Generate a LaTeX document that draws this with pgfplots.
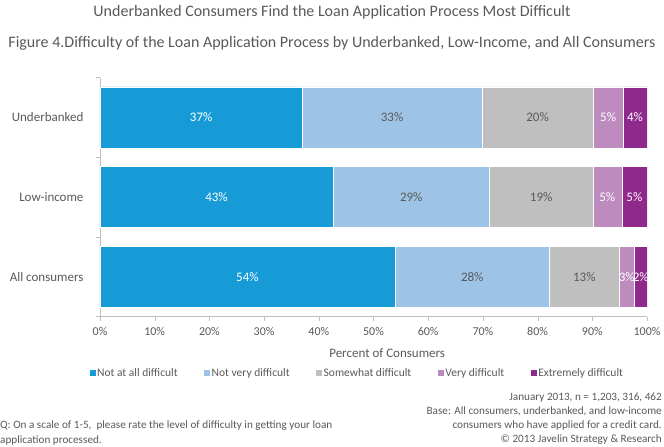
\documentclass[border=0pt]{standalone}
\usepackage{pgfplots}
\pgfplotsset{compat=1.18}
\usepackage{pgfplotstable}
\usepackage{fontspec}
\setmainfont{Carlito}
\definecolor{cA}{HTML}{179BD7}
\definecolor{cB}{HTML}{9DC3E6}
\definecolor{cC}{HTML}{BFBFBF}
\definecolor{cD}{HTML}{BD8BBE}
\definecolor{cE}{HTML}{8F2A8C}
\definecolor{txt}{HTML}{595959}
\definecolor{axgray}{HTML}{BFBFBF}
\pgfplotstableread{
y  a    b    c    d    e
0  53.9 28.3 12.7 2.8 2.3
1  42.6 28.6 18.9 5.3 4.6
2  37.0 32.8 20.4 5.4 4.4
}\data
\begin{document}
\begin{tikzpicture}[x=1pt,y=1pt]
\path[use as bounding box] (0,0) rectangle (664,-447);
\node[font=\fontsize{16}{18}\selectfont, text=txt] at (332,-12) {Underbanked Consumers Find the Loan Application Process Most Difficult};
\node[font=\fontsize{16}{18}\selectfont, text=txt] at (332,-43) {Figure 4.Difficulty of the Loan Application Process by Underbanked, Low-Income, and All Consumers};
\begin{axis}[
  at={(100pt,-316.5pt)}, anchor=south west,
  scale only axis, width=547pt, height=239pt,
  xbar stacked, bar width=61pt,
  xmin=0, xmax=100, ymin=-0.5, ymax=2.5,
  axis x line*=bottom, axis y line*=left,
  axis line style={draw=axgray,-},
  xtick={0,10,...,100},
  xticklabel={\pgfmathprintnumber{\tick}\%},
  ytick={0,1,2},
  yticklabels={All consumers,Low-income,Underbanked},
  minor ytick={-0.5,0.5,1.5,2.5},
  tick align=outside,
  major tick length=4pt, minor tick length=4pt,
  x tick style={draw=axgray},
  major y tick style={draw=none},
  minor y tick style={draw=axgray},
  /pgf/number format/assume math mode=true,
  x tick label style={text=txt, font=\fontsize{12}{14}\selectfont, yshift=-3pt},
  y tick label style={text=txt, font=\fontsize{13}{15}\selectfont, xshift=-9pt},
  xlabel={Percent of Consumers},
  xlabel style={at={(axis description cs:0.525,-0.153)}, anchor=center, text=txt, font=\fontsize{13}{15}\selectfont},
  legend columns=5,
  legend style={at={(axis description cs:0.470,-0.236)}, anchor=center, draw=none, fill=none,
    font=\fontsize{11.5}{13}\selectfont, text=txt,
    /tikz/every even column/.append style={column sep=25pt},
    nodes={inner sep=1.5pt}},
  legend image code/.code={\fill[#1,draw=none] (0pt,-3pt) rectangle (6pt,3pt);},
]
\addplot[fill=cA, draw=white, line width=0.4pt] table[x=a,y=y] {\data};
\addlegendentry{Not at all difficult}
\addplot[fill=cB, draw=white, line width=0.4pt] table[x=b,y=y] {\data};
\addlegendentry{Not very difficult}
\addplot[fill=cC, draw=white, line width=0.4pt] table[x=c,y=y] {\data};
\addlegendentry{Somewhat difficult}
\addplot[fill=cD, draw=white, line width=0.4pt] table[x=d,y=y] {\data};
\addlegendentry{Very difficult}
\addplot[fill=cE, draw=white, line width=0.4pt] table[x=e,y=y] {\data};
\addlegendentry{Extremely difficult}
\end{axis}
\begin{axis}[
  at={(100pt,-316.5pt)}, anchor=south west,
  scale only axis, width=547pt, height=239pt,
  xmin=0, xmax=100, ymin=-0.5, ymax=2.5,
  hide axis,
  /pgf/number format/assume math mode=true,
  nodes near coords={\pgfmathprintnumber[fixed,precision=0]{\pgfplotspointmeta}\%},
  nodes near coords style={anchor=center, font=\fontsize{13}{15}\selectfont},
  point meta=explicit,
]
\addplot[draw=none, nodes near coords style={text=white}] table[x expr=\thisrow{a}/2, y=y, meta=a] {\data};
\addplot[draw=none, nodes near coords style={text=txt}] table[x expr=\thisrow{a}+\thisrow{b}/2, y=y, meta=b] {\data};
\addplot[draw=none, nodes near coords style={text=txt}] table[x expr=\thisrow{a}+\thisrow{b}+\thisrow{c}/2, y=y, meta=c] {\data};
\addplot[draw=none, nodes near coords style={text=white}] table[x expr=\thisrow{a}+\thisrow{b}+\thisrow{c}+\thisrow{d}/2, y=y, meta=d] {\data};
\addplot[draw=none, nodes near coords style={text=white}] table[x expr=\thisrow{a}+\thisrow{b}+\thisrow{c}+\thisrow{d}+\thisrow{e}/2, y=y, meta=e] {\data};
\end{axis}
\node[anchor=west, align=left, font=\fontsize{11.2}{15}\selectfont, text=txt, inner sep=0pt] at (0,-433.5) {Q: On a scale of 1-5,\ \ please rate the level of difficulty in getting your loan\\application processed.};
\node[anchor=east, align=right, font=\fontsize{11.2}{14}\selectfont, text=txt, inner sep=0pt] at (662,-419) {January 2013, n = 1,203, 316, 462\\Base: All consumers, underbanked, and low-income\\consumers who have applied for a credit card.\\© 2013 Javelin Strategy \& Research};
\end{tikzpicture}
\end{document}
